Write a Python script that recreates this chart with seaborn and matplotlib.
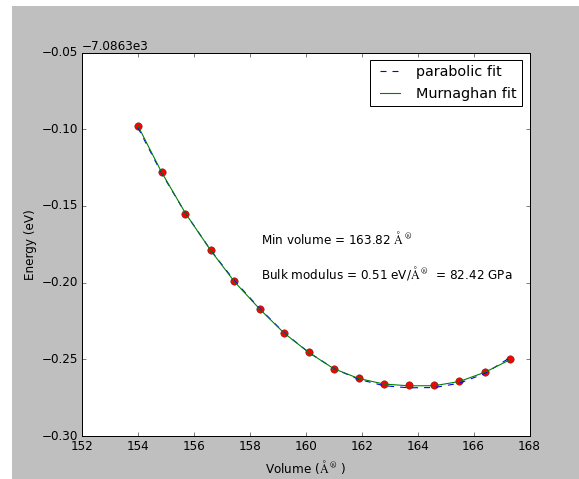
import numpy as np
import matplotlib
matplotlib.use("Agg")
import matplotlib.pyplot as plt
from matplotlib.patches import Rectangle
import seaborn as sns

# Data (energies relative to the offset shown on the axis)
energy_offset = -7086.3
volume = [154.0, 154.85, 155.7, 156.6, 157.45, 158.35, 159.22, 160.11,
          161.0, 161.89, 162.79, 163.69, 164.6, 165.49, 166.41, 167.31]
energy_rel = [-0.098, -0.128, -0.155, -0.179, -0.199, -0.217, -0.233, -0.245,
              -0.256, -0.262, -0.266, -0.267, -0.267, -0.264, -0.258, -0.250]
parabolic_rel = [-0.0990, -0.1288, -0.1548, -0.1788, -0.1988, -0.2168, -0.2326, -0.2455,
                 -0.2560, -0.2630, -0.2672, -0.2686, -0.2684, -0.2656, -0.2592, -0.2488]
murnaghan_rel = [-0.0978, -0.1282, -0.1548, -0.1790, -0.1994, -0.2172, -0.2328, -0.2456,
                 -0.2561, -0.2625, -0.2661, -0.2673, -0.2672, -0.2645, -0.2584, -0.2502]

min_volume = 163.82
bulk_ev = 0.51
bulk_gpa = 82.42

energy = np.array(energy_rel) + energy_offset
parabolic = np.array(parabolic_rel) + energy_offset
murnaghan = np.array(murnaghan_rel) + energy_offset

plt.style.use("classic")
W, H, DPI = 579, 479, 72
fig = plt.figure(figsize=(W / DPI, H / DPI), dpi=DPI, facecolor="white")
fig.add_artist(Rectangle((12 / W, 0), 1 - 12 / W, 1 - 6 / H, transform=fig.transFigure,
                         facecolor="#bfbfbf", edgecolor="none", zorder=-5))
ax = fig.add_axes([82 / W, 1 - 436 / H, (529.5 - 82) / W, (436 - 52.5) / H])

sns.scatterplot(x=volume, y=energy, ax=ax, color="red", edgecolor="#552222",
                linewidth=0.5, s=55, zorder=1)
sns.lineplot(x=volume, y=parabolic, ax=ax, color="blue", linestyle="--", lw=1.1,
             label="parabolic fit", sort=False, zorder=2)
sns.lineplot(x=volume, y=murnaghan, ax=ax, color="green", lw=1.1,
             label="Murnaghan fit", sort=False, zorder=3)

ax.set_xlim(152, 168)
ax.set_ylim(energy_offset - 0.30, energy_offset - 0.05)
ax.set_xticks(np.arange(152, 169, 2))
ax.set_yticks(energy_offset + np.array([-0.30, -0.25, -0.20, -0.15, -0.10, -0.05]))
ax.yaxis.get_major_formatter().set_useOffset(energy_offset)

ang = r"$\mathrm{\AA}^{\,\circledR}$"
ax.set_xlabel("Volume (" + ang + " )")
ax.set_ylabel("Energy (eV)")

ax.text(158.4, energy_offset - 0.171, "Min volume = %.2f " % min_volume + ang,
        va="center", ha="left")
ax.text(158.4, energy_offset - 0.194,
        "Bulk modulus = %.2f eV/" % bulk_ev + ang + "  = %.2f GPa" % bulk_gpa,
        va="center", ha="left")

ax.legend(loc="upper right")

fig.savefig("out.png", dpi=DPI, facecolor=fig.get_facecolor())
